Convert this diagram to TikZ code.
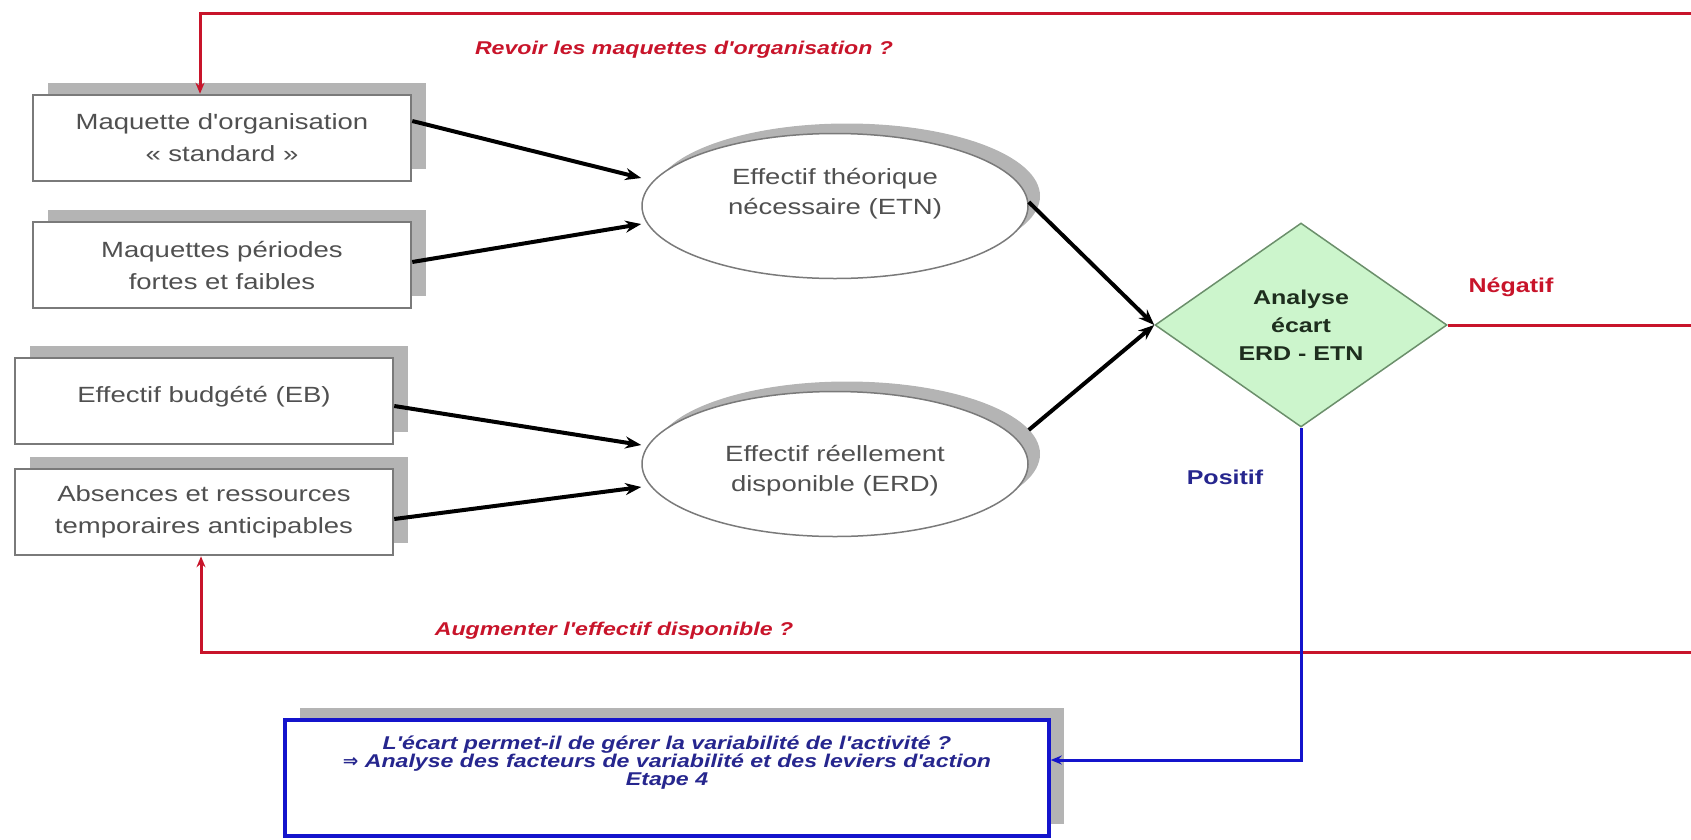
\documentclass[tikz,border=0pt]{standalone}
\usepackage{fontspec}
\setmainfont{Liberation Sans}
\newfontfamily\widefont[FakeStretch=1.25]{Liberation Sans}
\newfontfamily\arrowfont{DejaVu Sans}
\usetikzlibrary{arrows.meta,shapes.geometric,shadows}

\definecolor{boxtext}{HTML}{505050}
\definecolor{boxline}{HTML}{7A7A7A}
\definecolor{shadowgray}{HTML}{B4B4B4}
\definecolor{redline}{HTML}{C8142A}
\definecolor{blueline}{HTML}{1414CC}
\definecolor{navytext}{HTML}{26268E}
\definecolor{diafill}{HTML}{CCF5CC}
\definecolor{diaborder}{HTML}{6B8F6B}
\definecolor{diatext}{HTML}{1E2E1E}

\begin{document}
\begin{tikzpicture}[x=1pt,y=-1pt,>={Stealth[length=16pt,width=12pt]},
                    node distance=127pt,
    box/.style={draw=boxline, line width=2.5pt, fill=white,
                minimum width=378pt, minimum height=86pt, align=center,
                text=boxtext, font=\widefont\fontsize{22}{32}\selectfont,
                general shadow={fill=shadowgray, shadow xshift=15pt,
                                shadow yshift=12pt}},
    oval/.style={ellipse, draw=boxline, line width=1.5pt, fill=white,
                 minimum width=386pt, minimum height=145pt, align=center,
                 text=boxtext, font=\widefont\fontsize{22}{30}\selectfont,
                 general shadow={fill=shadowgray, shadow xshift=12pt,
                                 shadow yshift=10pt}},
    testbox/.style={diamond, draw=diaborder, line width=1.5pt, fill=diafill,
                 minimum width=292pt, minimum height=204pt, inner sep=0pt,
                 align=center, text=diatext,
                 font=\widefont\bfseries\fontsize{20}{28}\selectfont},
    stepbox/.style={draw=blueline, line width=3.5pt, fill=white,
                    minimum width=764pt, minimum height=116pt, align=center,
                    text=navytext,
                    font=\widefont\bfseries\itshape\fontsize{18.5}{18}\selectfont,
                    general shadow={fill=shadowgray, shadow xshift=15pt,
                                    shadow yshift=12pt}},
    question/.style={text=redline,
                     font=\widefont\bfseries\itshape\fontsize{18.5}{21}\selectfont},
    answer/.style={font=\widefont\bfseries\fontsize{20}{24}\selectfont},
    flow/.style={->, line width=4pt, black},
    backline/.style={draw=redline, line width=3pt, -{Stealth[length=11pt,width=9pt]}},
    posline/.style={draw=blueline, line width=3pt, -{Stealth[length=11pt,width=9pt]}}]
  \useasboundingbox (0,0) rectangle (1691,839);

  \node[box]  (b1) at (222,138)  {Maquette d'organisation\\« standard »};
  \node[box]  (b2) [below of=b1] {Maquettes périodes\\fortes et faibles};
  \node[box]  (b3) at (204,401)  {Effectif budgété (EB)\\[-18pt]~};
  \node[box]  (b4) [below of=b3, node distance=111pt]
              {Absences et ressources\\temporaires anticipables};
  \node[oval] (etn) at (835,206) {Effectif théorique\\nécessaire (ETN)\\[-1pt]\mbox{}};
  \node[oval] (erd) [below of=etn, node distance=258pt]
              {\mbox{}\\Effectif réellement\\disponible (ERD)};
  \node[testbox] (dia) at (1301,325) {Analyse\\écart\\ERD - ETN};
  \node[stepbox] (b5) at (667,778)
    {L'écart permet-il de gérer la variabilité de l'activité ?\\
     {\arrowfont\bfseries ⇒} Analyse des facteurs de variabilité et des leviers d'action\\
     Etape 4\\[16pt]\mbox{}};

  \node[question] (revoir) at (684,50) {Revoir les maquettes d'organisation ?};
  \node[question] (augm) at (614,631) {Augmenter l'effectif disponible ?};
  \node[answer, text=redline]  (neg) at (1511,287) {Négatif};
  \node[answer, text=navytext] (posi) at (1225,477) {Positif};

  \coordinate (rt)   at (1720,325);
  \coordinate (topL) at (200,13);
  \coordinate (botL) at (201,652);

  \draw[flow] ([yshift=17pt]b1.east) -- ([yshift=28pt]etn.west);
  \draw[flow] ([yshift=3pt]b2.east)  -- ([yshift=-18pt]etn.west);
  \draw[flow] ([yshift=-5pt]b3.east) -- ([yshift=19pt]erd.west);
  \draw[flow] ([yshift=-7pt]b4.east) -- ([yshift=-23pt]erd.west);
  \draw[flow] ([yshift=4pt]etn.east)  -- (dia.west);
  \draw[flow] ([yshift=34pt]erd.east) -- (dia.west);

  \draw[backline] (dia.east) -- (rt) |- (topL) -- (topL |- b1.north);
  \draw[backline] (rt) |- (botL) -- (botL |- b4.south);
  \draw[posline]  (dia.south) |- ([yshift=18pt]b5.east);
\end{tikzpicture}
\end{document}
